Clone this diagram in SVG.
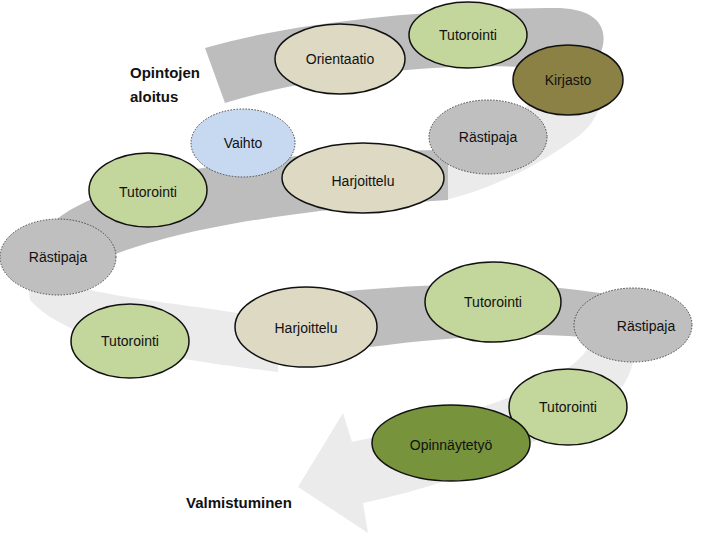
<svg xmlns="http://www.w3.org/2000/svg" width="720" height="540" viewBox="0 0 720 540">
<style>
.n{stroke:#111;stroke-width:1.5}
.d{stroke:#444;stroke-width:1;stroke-dasharray:1.5 1.5}
.t{font-family:"Liberation Sans",Arial,sans-serif;font-size:14px;fill:#111;text-anchor:middle;dominant-baseline:central}
.b{font-family:"Liberation Sans",Arial,sans-serif;font-size:15px;font-weight:bold;fill:#111}
.dk{fill:#bdbdbd}.lt{fill:#ebebeb}
</style>
<rect width="720" height="540" fill="#fff"/>
<g id="band">
<path class="dk" d="M205,48 C300,20 450,8 560,8 C600,10 610,30 600,55 L560,70 C480,60 330,70 225,103 Z"/>
<path class="lt" d="M600,52 C615,80 600,120 580,135 C540,165 490,190 445,200 L445,152 C490,140 530,110 560,68 Z"/>
<path class="dk" d="M448,150 C300,150 150,165 70,210 C30,235 20,260 40,285 L60,282 C120,240 250,212 448,200 Z"/>
<path class="lt" d="M25,262 C60,295 160,300 250,315 L278,318 L278,372 C180,360 70,345 30,300 Z"/>
<path class="dk" d="M340,292 C420,284 520,280 600,293 C625,298 630,325 620,342 C560,330 460,335 370,347 Z"/>
<path class="lt" d="M610,300 C640,320 645,370 610,400 C570,425 510,455 457,477 C420,490 390,497 363,503 L368,533 L298,487 L343,413 L352,442 C400,432 470,415 540,385 C590,360 600,335 595,315 Z"/>
</g>
<g id="connectors"/>
<g id="n1"><ellipse class="n" cx="340" cy="59" rx="65" ry="35" fill="#ddd9c3"/><text class="t" x="340" y="59">Orientaatio</text></g>
<g id="n2"><ellipse class="n" cx="468" cy="35" rx="59" ry="33" fill="#c3d69b"/><text class="t" x="468" y="35">Tutorointi</text></g>
<g id="n3"><ellipse class="n" cx="568" cy="80" rx="55" ry="35" fill="#8b8145"/><text class="t" x="568" y="80">Kirjasto</text></g>
<g id="n4"><ellipse class="d" cx="488" cy="137" rx="59" ry="37" fill="#bfbfbf"/><text class="t" x="488" y="137">Rästipaja</text></g>
<g id="n5"><ellipse class="d" cx="243" cy="143" rx="52" ry="34" fill="#c6d9f1"/><text class="t" x="243" y="143">Vaihto</text></g>
<g id="n6"><ellipse class="n" cx="363" cy="178" rx="81" ry="35" fill="#ddd9c3"/><text class="t" x="363" y="181">Harjoittelu</text></g>
<g id="n7"><ellipse class="n" cx="148" cy="190" rx="59" ry="37" fill="#c3d69b"/><text class="t" x="148" y="192">Tutorointi</text></g>
<g id="n8"><ellipse class="d" cx="58" cy="257" rx="58" ry="38" fill="#bfbfbf"/><text class="t" x="58" y="257">Rästipaja</text></g>
<g id="n9"><ellipse class="n" cx="130" cy="341" rx="59" ry="37" fill="#c3d69b"/><text class="t" x="130" y="341">Tutorointi</text></g>
<g id="n10"><ellipse class="n" cx="306" cy="327" rx="71" ry="40" fill="#ddd9c3"/><text class="t" x="306" y="328">Harjoittelu</text></g>
<g id="n11"><ellipse class="n" cx="493" cy="302" rx="68" ry="40" fill="#c3d69b"/><text class="t" x="493" y="302">Tutorointi</text></g>
<g id="n12"><ellipse class="d" cx="633" cy="325" rx="59" ry="37" fill="#bfbfbf"/><text class="t" x="646" y="326">Rästipaja</text></g>
<g id="n13"><ellipse class="n" cx="568" cy="407" rx="59" ry="38" fill="#c3d69b"/><text class="t" x="568" y="407">Tutorointi</text></g>
<g id="n14"><ellipse class="n" cx="451" cy="443" rx="79" ry="38" fill="#77933c"/><text class="t" x="451" y="445">Opinnäytetyö</text></g>
<text class="b" x="130" y="78">Opintojen</text>
<text class="b" x="130" y="102">aloitus</text>
<text class="b" x="186" y="508">Valmistuminen</text>
</svg>
